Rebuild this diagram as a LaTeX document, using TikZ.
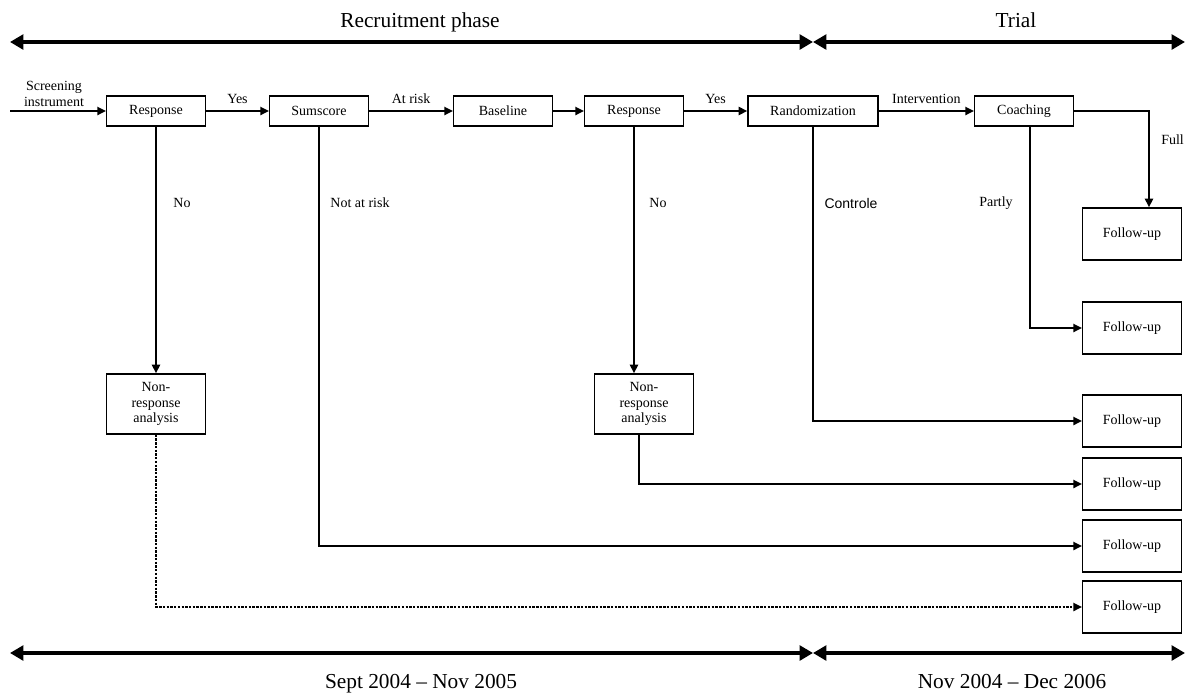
\documentclass[tikz,border=0pt]{standalone}
\usepackage{fontspec}
\setmainfont{Liberation Serif}
\newfontfamily\arialfont{Liberation Sans}
\usetikzlibrary{arrows.meta,calc}

\begin{document}
\begin{tikzpicture}[x=0.75pt,y=-0.75pt,
  font=\fontsize{10.5}{11.5}\selectfont,
  box/.style={draw,line width=1pt,minimum width=74pt,minimum height=22.5pt,inner sep=0pt},
  fubox/.style={box,minimum height=39pt},
  nrbox/.style={box,minimum height=45pt,align=center},
  conn/.style={line width=1.8pt,-{Triangle[length=6.5pt,width=6pt]}},
  phase/.style={line width=3.5pt,{Triangle[length=10pt,width=11pt]}-{Triangle[length=10pt,width=11pt]}},
  big/.style={font=\fontsize{16}{18}\selectfont,anchor=base}]
\useasboundingbox (0,0) rectangle (1186,694);

% time line top
\coordinate (tl) at (10,42);
\coordinate (tm) at (813,42);
\coordinate (tr) at (1185,42);
\draw[phase] (tl) -- (tm);
\draw[phase] (tm) -- (tr);
\node[big] (recruit) at (420,27) {Recruitment phase};
\node[big] (trial) at (1016,27) {Trial};

% main row
\coordinate (start) at (10,111);
\node[box] (resp1) at (156,111) {Response};
\node[box] (sum) at (319,111) {Sumscore};
\node[box] (base) at (503,111) {Baseline};
\node[box] (resp2) at (634,111) {Response};
\node[box,minimum width=97.5pt] (rand) at (813,111) {Randomization};
\node[box] (coach) at (1024,111) {Coaching};

\node[align=center,inner sep=0pt] (screen) at (54,94) {Screening\\instrument};
\draw[conn] (start) -- (resp1.west);
\draw[conn] (resp1) -- node[above=1pt] {Yes} (sum);
\draw[conn] (sum) -- node[above=1pt] {At risk} (base);
\draw[conn] (base) -- (resp2);
\draw[conn] (resp2) -- node[above=1pt] {Yes} (rand);
\draw[conn] (rand) -- node[above=1pt] {Intervention} (coach);

% non-response
\node[nrbox] (nr1) at (156,404) {Non-\\response\\analysis};
\node[nrbox] (nr2) at (644,404) {Non-\\response\\analysis};

% follow-up
\node[fubox] (fu1) at (1132,234) {Follow-up};
\node[fubox] (fu2) at (1132,328) {Follow-up};
\node[fubox] (fu3) at (1132,421) {Follow-up};
\node[fubox] (fu4) at (1132,484) {Follow-up};
\node[fubox] (fu5) at (1132,546) {Follow-up};
\node[fubox] (fu6) at (1132,607) {Follow-up};

\coordinate (full) at (1149,111);
\coordinate (part) at (1030,111);

\draw[conn] (resp1.south) -- (nr1.north);
\draw[conn] (resp2.south) -- (resp2.south |- nr2.north);
\draw[conn,densely dotted] (nr1.south) |- (fu6.west);
\draw[conn] (sum.south) |- (fu5.west);
\draw[conn] ([xshift=-3.75pt]nr2.south) |- (fu4.west);
\draw[conn] (rand.south) |- (fu3.west);
\draw[conn] (part |- coach.south) |- (fu2.west);
\draw[conn] (coach.east) -- (full) -- (full |- fu1.north);

\node (no1) at (182,203) {No};
\node (notrisk) at (360,203) {Not at risk};
\node (no2) at (658,203) {No};
\node[font=\arialfont\fontsize{10.5}{11.5}\selectfont] (ctrl) at (851,203) {Controle};
\node (partly) at (996,203) {Partly};
\node[anchor=west,inner sep=0pt] (fulllab) at (1161,140) {Full};

% time line bottom
\coordinate (bl) at (10,653);
\coordinate (bm) at (813,653);
\coordinate (br) at (1185,653);
\draw[phase] (bl) -- (bm);
\draw[phase] (bm) -- (br);
\node[big] (period1) at (421,688) {Sept 2004 -- Nov 2005};
\node[big] (period2) at (1012,688) {Nov 2004 -- Dec 2006};
\end{tikzpicture}
\end{document}
